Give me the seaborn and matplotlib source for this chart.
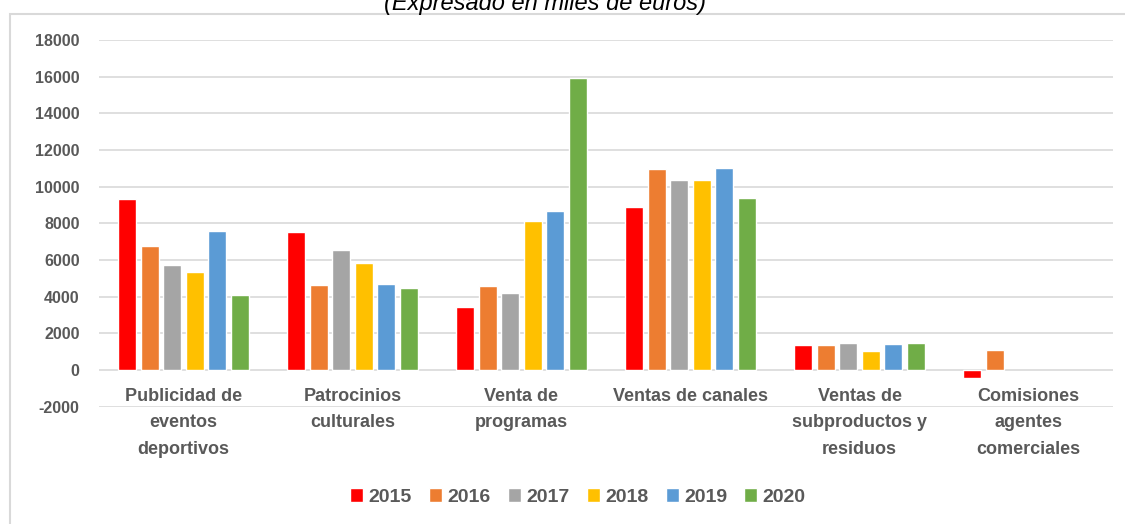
import matplotlib
matplotlib.use("Agg")
import matplotlib.pyplot as plt
from matplotlib.patches import Rectangle
import numpy as np
import pandas as pd
import seaborn as sns

categorias = ["Publicidad de\neventos\ndeportivos", "Patrocinios\nculturales",
              "Venta de\nprogramas", "Ventas de canales",
              "Ventas de\nsubproductos y\nresiduos", "Comisiones\nagentes\ncomerciales"]
anios = ["2015", "2016", "2017", "2018", "2019", "2020"]

v2015 = [9310, 7545, 3440, 8870, 1345, -450]
v2016 = [6760, 4620, 4560, 10960, 1360, 1070]
v2017 = [5710, 6545, 4200, 10360, 1450, np.nan]
v2018 = [5345, 5850, 8110, 10360, 1020, np.nan]
v2019 = [7580, 4690, 8690, 11000, 1420, np.nan]
v2020 = [4090, 4450, 15910, 9360, 1490, np.nan]

colores = ["#FF0000", "#ED7D31", "#A5A5A5", "#FFC000", "#5B9BD5", "#70AD47"]

series = [v2015, v2016, v2017, v2018, v2019, v2020]
rows = []
for anio, vals in zip(anios, series):
    for cat, v in zip(categorias, vals):
        rows.append({"cat": cat, "anio": anio, "valor": v})
df = pd.DataFrame(rows)

sns.set_style("white")
plt.rcParams["font.family"] = ["Liberation Sans", "DejaVu Sans"]
plt.rcParams["axes.unicode_minus"] = False
gris = "#595959"

fig = plt.figure(figsize=(11.25, 5.24), dpi=100)
ax = fig.add_axes([99 / 1125, 1 - 406.7 / 524, 1014 / 1125, 366.7 / 524])

sns.barplot(data=df, x="cat", y="valor", hue="anio", hue_order=anios,
            order=categorias, palette=colores, saturation=1,
            width=0.8, gap=0.2, ax=ax, legend=True, zorder=3)

ax.set_ylim(-2000, 18000)
ax.set_yticks(range(-2000, 18001, 2000))
ax.set_xlim(-0.5, 5.5)
ax.grid(axis="y", color="#d9d9d9", lw=1.2, zorder=0)
ax.set_axisbelow(True)
for s in ax.spines.values():
    s.set_visible(False)
ax.set_xlabel("")
ax.set_ylabel("")
ax.tick_params(axis="y", length=0, pad=14, labelsize=11.5, labelcolor=gris)
for t in ax.get_yticklabels():
    t.set_fontweight("bold")

# category labels hang just below the zero line, as in the original
ax.set_xticks(range(len(categorias)))
ax.set_xticklabels([""] * len(categorias))
ax.tick_params(axis="x", length=0)
for i, lab in enumerate(categorias):
    ax.annotate(lab, (i, 0), xytext=(0, -13), textcoords="offset points",
                ha="center", va="top", fontsize=13, fontweight="bold",
                color=gris, linespacing=1.72)

leg = ax.legend(loc="center", bbox_to_anchor=(578 / 1125, 1 - 497 / 524),
                bbox_transform=fig.transFigure, ncol=6, frameon=False,
                handlelength=0.67, handleheight=0.67, handletextpad=0.28,
                columnspacing=0.88, prop={"weight": "bold", "size": 14})
for t in leg.get_texts():
    t.set_color(gris)

fig.patches.append(Rectangle((10 / 1125, -0.05), 1.1, 1 - 13.5 / 524 + 0.05,
                             transform=fig.transFigure, fill=False,
                             edgecolor="#d9d9d9", lw=1.5))
fig.text(545 / 1125, 1 - 10 / 524, "(Expresado en miles de euros)",
         ha="center", va="baseline", style="italic", fontsize=17,
         color="black")

fig.savefig("out.png", dpi=100)
